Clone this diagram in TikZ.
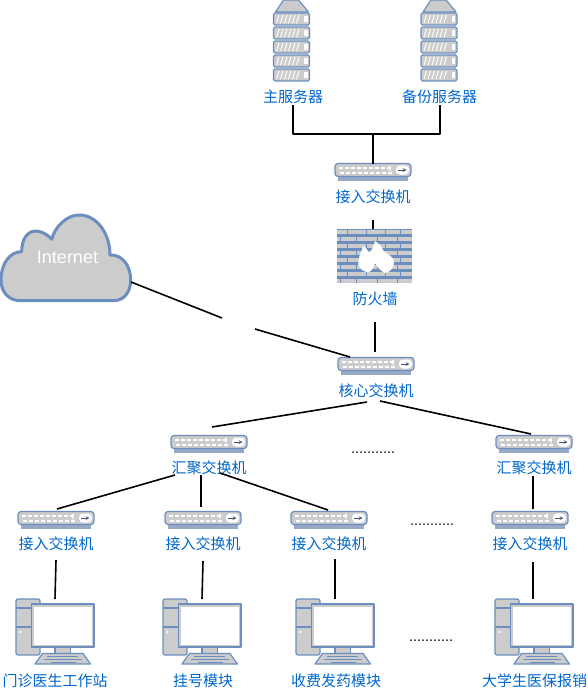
\documentclass[tikz,border=0pt]{standalone}
\usepackage{fontspec}
\setmainfont{Liberation Sans}
\newfontfamily\cjk{Noto Sans CJK SC}
\definecolor{edgeblue}{HTML}{6C8EBF}
\definecolor{fillgray}{HTML}{CCCCCC}
\definecolor{labelblue}{HTML}{0066CC}
\tikzset{
  x=1pt,y=-1pt,
  every picture/.style={line join=round},
  lab/.style={font=\cjk\fontsize{15}{17}\selectfont,text=labelblue,inner sep=0pt},
  dots/.style={font=\fontsize{14.4}{16}\selectfont,text=black,inner sep=0pt},
  wire/.style={draw=black,line width=1.6pt},
  part/.style={draw=edgeblue,fill=fillgray,line width=1.2pt},
  pics/serverpic/.style={code={
    \draw[part] (2,12) -- (10,0) -- (25,0) -- (35,12) -- cycle;
    \foreach \yy in {13,27,41,55,69}{
      \draw[part,rounded corners=1.5pt] (0,\yy) rectangle (36,\yy+12);
      \foreach \xx in {3,7,11,15,19,23}{
        \draw[white,line width=1pt] (\xx,\yy+10) -- (\xx+2.5,\yy+2);
      }
      \fill[white] (30.5,\yy+3) rectangle (34,\yy+9);
    }
  }},
  pics/switchpic/.style={code={
    \fill[edgeblue!55!fillgray] (3,13) rectangle (73,17);
    \draw[part,rounded corners=3pt] (0,0) rectangle (76,13);
    \foreach \xx in {4,10,...,52}{
      \fill[white] (\xx,3) rectangle (\xx+4,5.2);
      \fill[white] (\xx+1,8) rectangle (\xx+4.5,10);
    }
    \fill[white] (55,3) circle (1) (55,6.5) circle (1) (55,10) circle (1);
    \fill[white,rounded corners=4pt] (61,2) rectangle (74,11);
    \draw[edgeblue!60!black,line width=.7pt,->,>=stealth] (63,6.5) -- (71.5,6.5);
  }},
  pics/firewallpic/.style={code={
    \fill[edgeblue] (0,0) rectangle (75,54);
    \foreach \rr/\yy in {0/1,1/8,2/15,3/22,4/29,5/36,6/43,7/50}{
      \pgfmathtruncatemacro{\odd}{mod(\rr,2)}
      \ifnum\odd=0
        \foreach \xx/\xy in {0/10,11/29,30/48,49/63,64/75}{\fill[fillgray] (\xx,\yy) rectangle (\xy,\yy+3.8);}
      \else
        \foreach \xx/\xy in {0/3,4/19,20/40,41/60,61/75}{\fill[fillgray] (\xx,\yy) rectangle (\xy,\yy+3.8);}
      \fi
    }
    \fill[white] (31,43.5)
      .. controls (24,42) and (20,37) .. (21.5,32)
      .. controls (22,26) and (25,22) .. (26,17)
      .. controls (29,19) and (31,21) .. (32,24)
      .. controls (36,20) and (37,16) .. (38,12)
      .. controls (42,15) and (45,18) .. (46.5,22)
      .. controls (50,25) and (57,28) .. (57,33)
      .. controls (57,39) and (53,43) .. (48,44)
      .. controls (44,42) and (40,38) .. (38,34)
      .. controls (37,38) and (35,42) .. (31,43.5) -- cycle;
  }},
  pics/pcpic/.style={code={
    \draw[part,rounded corners=2pt] (0,0) rectangle (24,56);
    \draw[edgeblue,line width=1.2pt] (0,9) -- (24,9) (0,28) -- (24,28);
    \fill[white] (4.5,33) circle (1.4);
    \draw[part] (39,48) rectangle (54.5,55);
    \draw[part] (15.5,5) rectangle (78,48);
    \fill[white] (18,7.5) rectangle (75.5,46);
    \draw[part] (26.5,54.5) -- (67,54.5) -- (74.5,65) -- (19,65) -- cycle;
    \draw[edgeblue,line width=.8pt] (31,57) -- (62,57) (28,60) -- (66,60) (35,63) -- (60,63);
  }},
}
\begin{document}
\begin{tikzpicture}
\useasboundingbox (0,0) rectangle (588,690);
% cloud
\begin{scope}[xshift=0pt,yshift=-205pt,scale=1/3]
\draw[part,line width=3pt] (60,287) -- (340,287)
  .. controls (375,287) and (392,258) .. (392,225)
  .. controls (392,180) and (365,148) .. (330,150)
  .. controls (330,85) and (290,30) .. (238,30)
  .. controls (200,30) and (165,65) .. (155,103)
  .. controls (140,85) and (120,78) .. (105,78)
  .. controls (80,80) and (65,105) .. (65,140)
  .. controls (30,140) and (3,175) .. (3,225)
  .. controls (3,265) and (30,287) .. (60,287) -- cycle;
\end{scope}
\node[inner sep=0pt,text=white,font=\fontsize{18}{20}\selectfont] (cloudtext) at (67.5,257) {Internet};
% servers
\pic at (273.5,0) {serverpic};
\pic at (421,0) {serverpic};
\node[lab] (srvA) at (293,97) {主服务器};
\node[lab] (srvB) at (439.5,97) {备份服务器};
% switches
\pic at (335,163.5) {switchpic};
\pic at (338,357.5) {switchpic};
\pic at (171,435.5) {switchpic};
\pic at (496,435.5) {switchpic};
\pic at (18,511.5) {switchpic};
\pic at (165,511.5) {switchpic};
\pic at (291,511.5) {switchpic};
\pic at (492,511.5) {switchpic};
\node[lab] (swTop) at (373,196.5) {接入交换机};
\node[lab] (core) at (376,390.5) {核心交换机};
\node[lab] (aggA) at (209,468) {汇聚交换机};
\node[lab] (aggB) at (534,468) {汇聚交换机};
\node[lab] (accA) at (56,544) {接入交换机};
\node[lab] (accB) at (203,544) {接入交换机};
\node[lab] (accC) at (329,544) {接入交换机};
\node[lab] (accD) at (530,544) {接入交换机};
% firewall
\pic at (337,229) {firewallpic};
\node[lab] (fw) at (375,299) {防火墙};
% PCs
\pic at (16,599) {pcpic};
\pic at (163,599) {pcpic};
\pic at (296,599) {pcpic};
\pic at (495,599) {pcpic};
\node[lab] (pcA) at (55,681) {门诊医生工作站};
\node[lab] (pcB) at (203,681) {挂号模块};
\node[lab] (pcC) at (336,681) {收费发药模块};
\node[lab] (pcD) at (534.5,681) {大学生医保报销};
% dots
\node[dots] (dotsA) at (373,453) {...........};
\node[dots] (dotsB) at (432,525) {...........};
\node[dots] (dotsC) at (431,641) {...........};
% connector end points
\coordinate (a1) at (293,105); \coordinate (a2) at (293,134);
\coordinate (b1) at (440,105); \coordinate (b2) at (440,134);
\coordinate (c1) at (373,134); \coordinate (c2) at (373,164);
\coordinate (d1) at (373,220); \coordinate (d2) at (373,229);
\coordinate (e1) at (375,322); \coordinate (e2) at (375,352);
\coordinate (f1) at (131,282); \coordinate (f2) at (222,318);
\coordinate (g1) at (255,329); \coordinate (g2) at (350,357);
\coordinate (h1) at (367,402); \coordinate (h2) at (212,427);
\coordinate (i1) at (380,401); \coordinate (i2) at (531,434);
\coordinate (j1) at (175,475); \coordinate (j2) at (57,509);
\coordinate (k1) at (201,475); \coordinate (k2) at (201,507);
\coordinate (l1) at (220,473); \coordinate (l2) at (328,510);
\coordinate (m1) at (533,476); \coordinate (m2) at (533,509);
\coordinate (n1) at (56,560); \coordinate (n2) at (55,599);
\coordinate (o1) at (203,561); \coordinate (o2) at (202,599);
\coordinate (p1) at (335,559); \coordinate (p2) at (335,599);
\coordinate (q1) at (533,562); \coordinate (q2) at (533,599);
\draw[wire] (a1) -- (a2) -- (b2) -- (b1);
\foreach \s in {c,d,e,f,g,h,i,j,k,l,m,n,o,p,q}{\draw[wire] (\s1) -- (\s2);}
\end{tikzpicture}
\end{document}
